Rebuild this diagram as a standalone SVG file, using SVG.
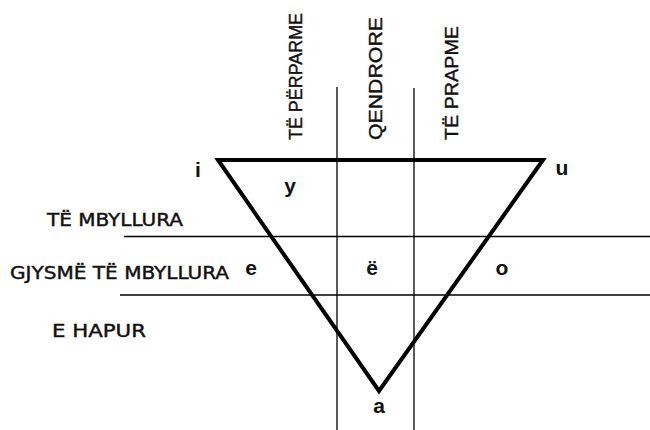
<svg xmlns="http://www.w3.org/2000/svg" width="650" height="430" viewBox="0 0 650 430">
<style>
.ln{stroke:#000;stroke-width:1.3;fill:none}
.tri{stroke:#000;stroke-width:4;fill:none;stroke-linejoin:miter}
.hd{font-family:"Liberation Sans",Arial,sans-serif;font-size:19px;fill:#111;stroke:#111;stroke-width:0.4}
.row{font-family:"DejaVu Sans Condensed","DejaVu Sans",sans-serif;font-size:18px;fill:#111;stroke:#111;stroke-width:0.4}
.v{font-family:"Liberation Sans",Arial,sans-serif;font-weight:bold;font-size:21px;fill:#111;text-anchor:middle}
</style>
<rect width="650" height="430" fill="#fff"/>
<g id="grid">
<line class="ln" x1="337" y1="87" x2="337" y2="430"/>
<line class="ln" x1="414" y1="88" x2="414" y2="430"/>
<line class="ln" x1="124" y1="236.5" x2="650" y2="236.5"/>
<line class="ln" x1="120" y1="295" x2="650" y2="295"/>
</g>
<g id="triangle">
<polygon class="tri" points="218,160 543,160 379,391"/>
</g>
<g id="headers">
<text class="hd" transform="translate(302,140) rotate(-90)" textLength="127" lengthAdjust="spacingAndGlyphs">TË PËRPARME</text>
<text class="hd" transform="translate(382,140) rotate(-90)" textLength="123" lengthAdjust="spacingAndGlyphs">QENDRORE</text>
<text class="hd" transform="translate(458,140) rotate(-90)" textLength="114" lengthAdjust="spacingAndGlyphs">TË PRAPME</text>
</g>
<g id="rows">
<text class="row" x="47" y="226" textLength="136" lengthAdjust="spacingAndGlyphs">TË MBYLLURA</text>
<text class="row" x="10" y="279" textLength="219" lengthAdjust="spacingAndGlyphs">GJYSMË TË MBYLLURA</text>
<text class="row" x="52" y="337" textLength="94" lengthAdjust="spacingAndGlyphs">E HAPUR</text>
</g>
<g id="vowels">
<text class="v" x="198" y="177">i</text>
<text class="v" x="290" y="193">y</text>
<text class="v" x="562" y="175">u</text>
<text class="v" x="251" y="275">e</text>
<text class="v" x="372" y="275">ë</text>
<text class="v" x="502" y="275">o</text>
<text class="v" x="379" y="413">a</text>
</g>
</svg>
